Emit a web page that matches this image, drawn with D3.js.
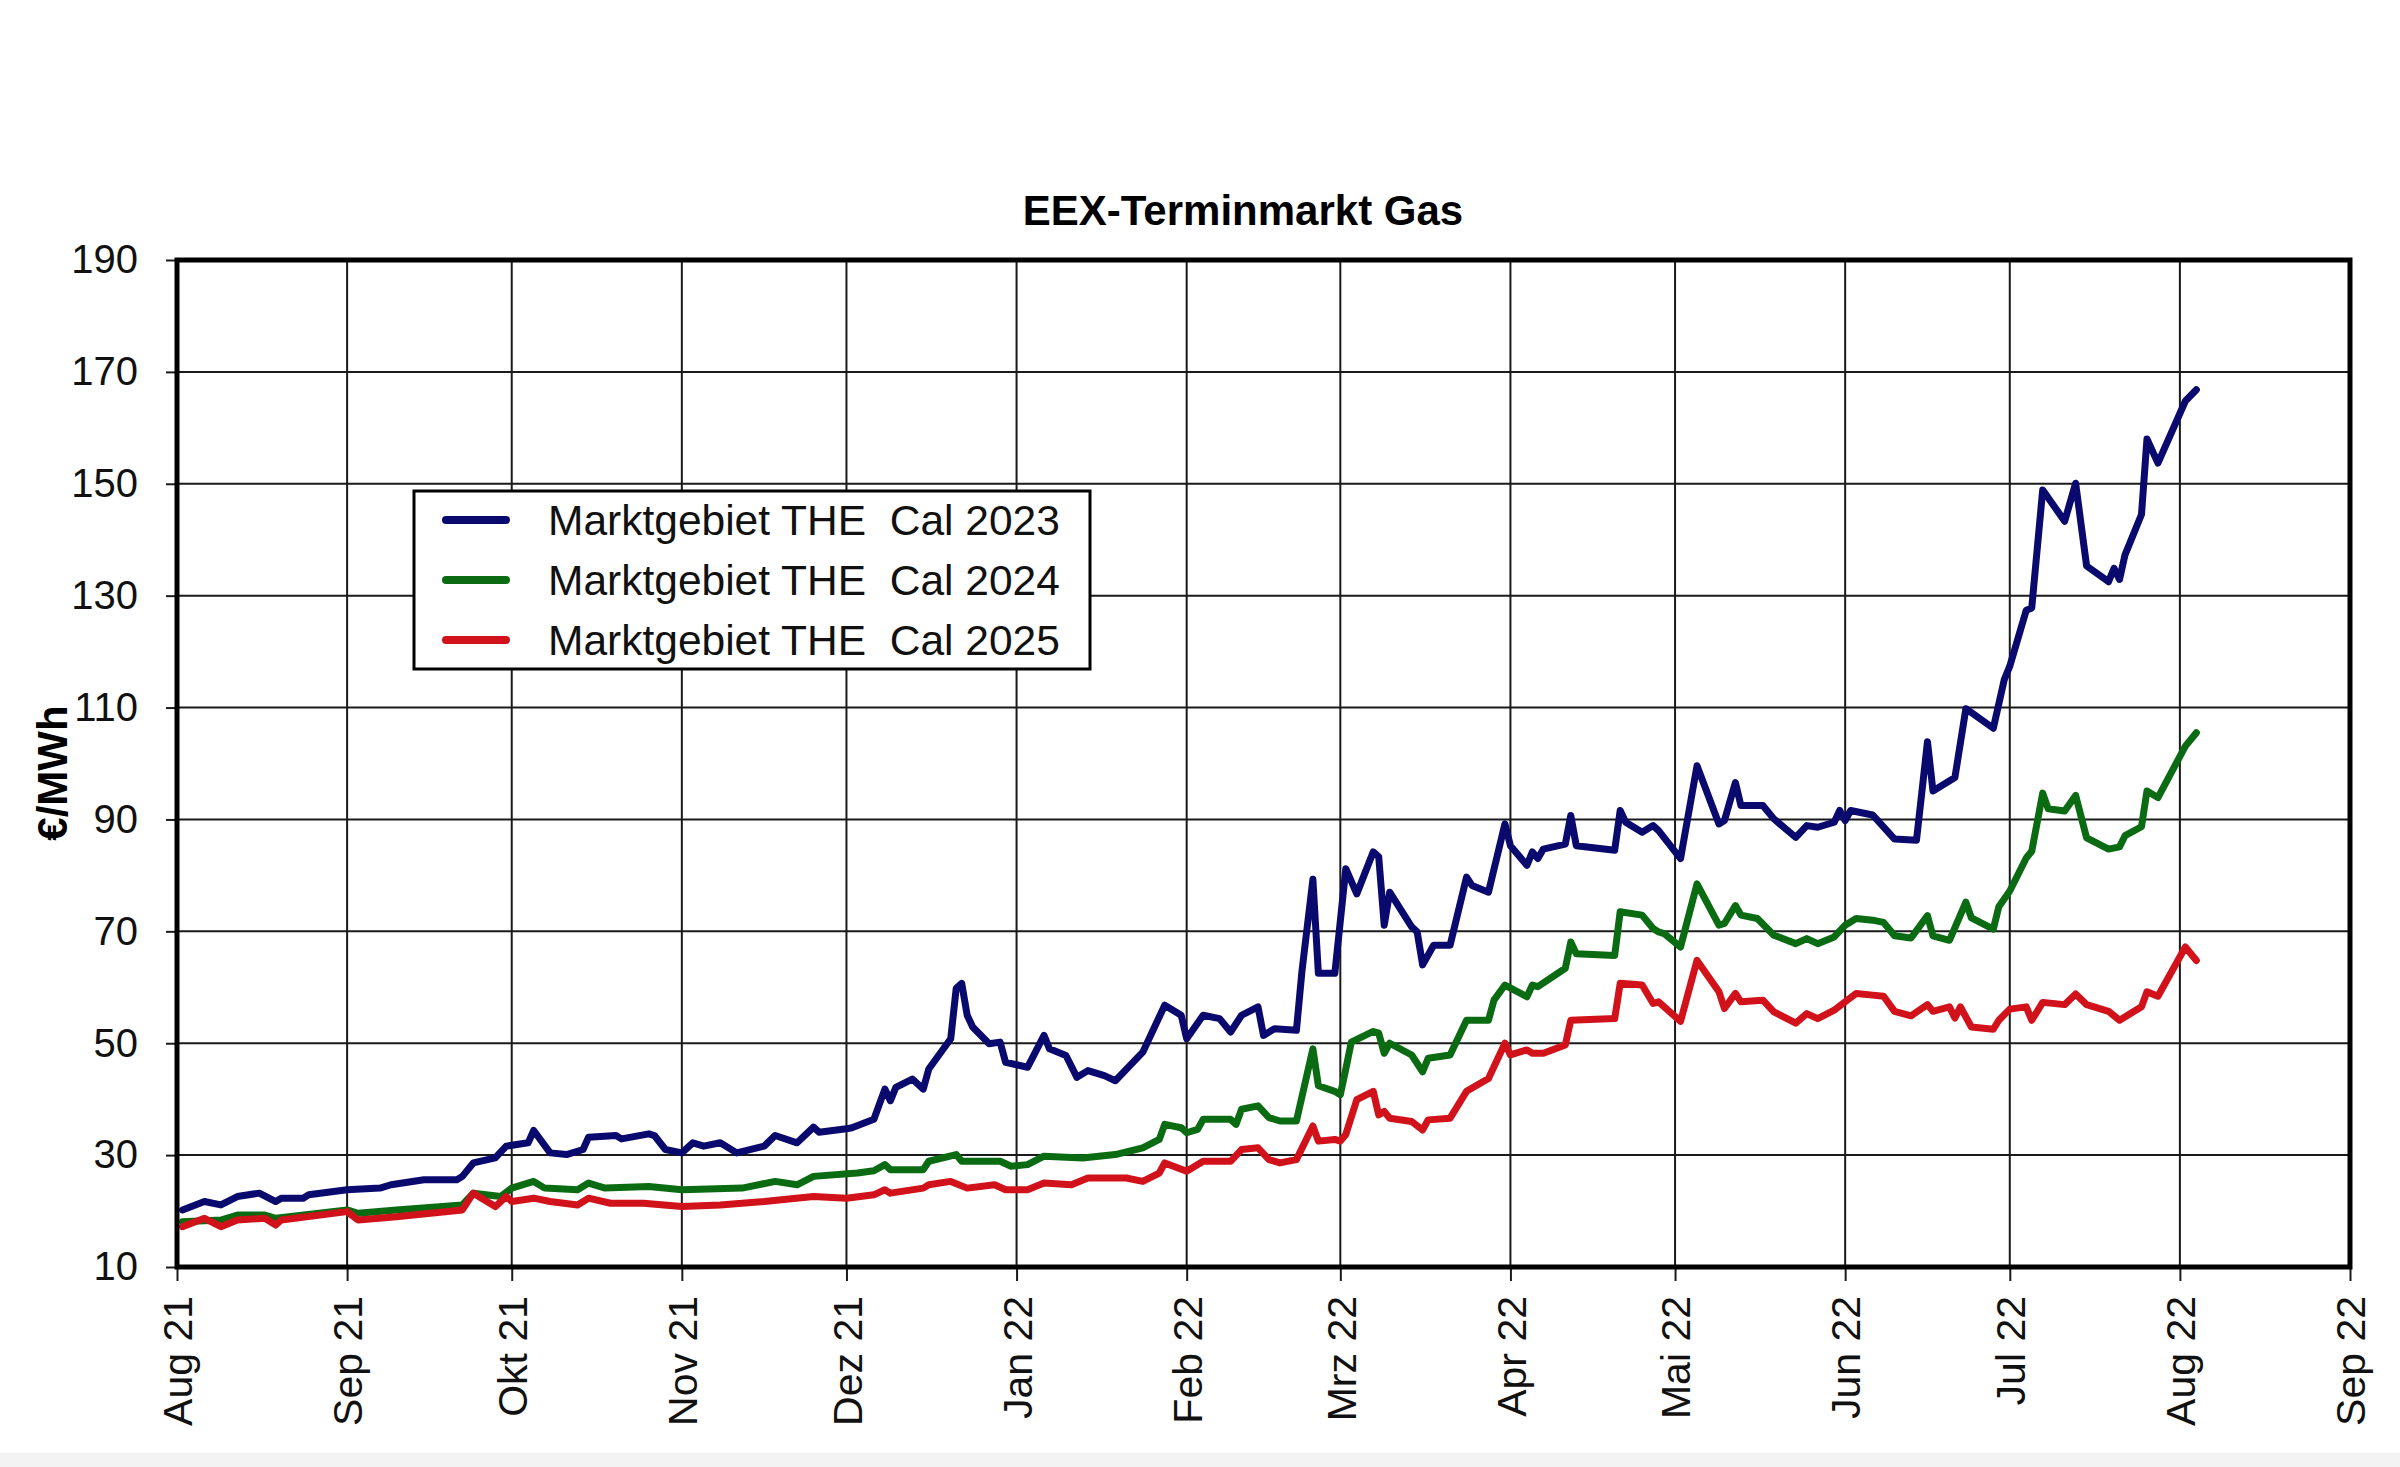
<!DOCTYPE html>
<html>
<head>
<meta charset="utf-8">
<script src="https://cdn.jsdelivr.net/npm/d3@7"></script>
<style>
  html, body { margin: 0; padding: 0; background: #fff; }
  svg { display: block; font-family: "Liberation Sans", Arial, sans-serif; }
</style>
</head>
<body>
<div id="chart"></div>
<script>
(function() {

// Chart data, one [date, €/MWh] pair per point.
var cal2023 = [
  ["2021-08-02",20.2],["2021-08-06",21.7],["2021-08-09",21.1],["2021-08-12",22.6],["2021-08-16",23.2],
  ["2021-08-19",21.7],["2021-08-20",22.3],["2021-08-24",22.3],["2021-08-25",22.9],["2021-09-01",23.8],
  ["2021-09-07",24.1],["2021-09-09",24.7],["2021-09-15",25.6],["2021-09-21",25.6],["2021-09-22",26.2],
  ["2021-09-24",28.6],["2021-09-28",29.5],["2021-09-30",31.6],["2021-10-04",32.2],["2021-10-05",34.4],
  ["2021-10-08",30.4],["2021-10-11",30.1],["2021-10-14",31.0],["2021-10-15",33.2],["2021-10-20",33.5],
  ["2021-10-21",32.9],["2021-10-26",33.8],["2021-10-27",33.5],["2021-10-29",31.0],["2021-11-01",30.4],
  ["2021-11-03",32.2],["2021-11-05",31.6],["2021-11-08",32.2],["2021-11-11",30.4],["2021-11-16",31.6],
  ["2021-11-18",33.5],["2021-11-22",32.2],["2021-11-25",35.0],["2021-11-26",34.1],["2021-12-01",34.7],
  ["2021-12-02",34.9],["2021-12-06",36.4],["2021-12-08",41.8],["2021-12-09",39.7],["2021-12-10",42.1],
  ["2021-12-13",43.6],["2021-12-15",41.8],["2021-12-16",45.4],["2021-12-20",50.8],["2021-12-21",59.8],
  ["2021-12-22",60.7],["2021-12-23",55.0],["2021-12-24",52.9],["2021-12-27",49.9],["2021-12-29",50.2],
  ["2021-12-30",46.6],["2022-01-03",45.7],["2022-01-06",51.4],["2022-01-07",49.0],["2022-01-10",47.8],
  ["2022-01-12",43.9],["2022-01-14",45.1],["2022-01-17",44.2],["2022-01-19",43.3],["2022-01-24",48.4],
  ["2022-01-28",56.8],["2022-01-31",55.0],["2022-02-01",50.8],["2022-02-04",55.0],["2022-02-07",54.4],
  ["2022-02-09",52.0],["2022-02-11",55.0],["2022-02-14",56.5],["2022-02-15",51.4],["2022-02-17",52.6],
  ["2022-02-21",52.3],["2022-02-22",62.8],["2022-02-24",79.3],["2022-02-25",62.5],["2022-02-28",62.5],
  ["2022-03-02",81.2],["2022-03-04",76.7],["2022-03-07",84.2],["2022-03-08",83.3],["2022-03-09",71.1],
  ["2022-03-10",77.0],["2022-03-14",70.8],["2022-03-15",69.9],["2022-03-16",64.0],["2022-03-18",67.5],
  ["2022-03-21",67.5],["2022-03-24",79.7],["2022-03-25",78.2],["2022-03-28",77.0],["2022-03-31",89.2],
  ["2022-04-01",85.3],["2022-04-04",81.8],["2022-04-05",84.2],["2022-04-06",83.0],["2022-04-07",84.7],
  ["2022-04-11",85.6],["2022-04-12",90.7],["2022-04-13",85.3],["2022-04-20",84.5],["2022-04-21",91.6],
  ["2022-04-22",89.5],["2022-04-25",87.7],["2022-04-27",88.9],["2022-04-28",88.0],["2022-05-02",83.0],
  ["2022-05-05",99.6],["2022-05-09",89.2],["2022-05-10",89.8],["2022-05-12",96.6],["2022-05-13",92.5],
  ["2022-05-17",92.5],["2022-05-19",90.1],["2022-05-23",86.8],["2022-05-25",88.9],["2022-05-27",88.6],
  ["2022-05-30",89.5],["2022-05-31",91.6],["2022-06-01",89.8],["2022-06-02",91.6],["2022-06-06",90.8],
  ["2022-06-10",86.5],["2022-06-14",86.3],["2022-06-16",103.9],["2022-06-17",95.1],["2022-06-21",97.5],
  ["2022-06-23",109.8],["2022-06-28",106.3],["2022-06-30",115.0],["2022-07-01",117.4],["2022-07-04",127.4],
  ["2022-07-05",127.8],["2022-07-07",148.9],["2022-07-11",143.3],["2022-07-13",150.1],["2022-07-15",135.3],
  ["2022-07-19",132.5],["2022-07-20",134.9],["2022-07-21",132.9],["2022-07-22",137.3],["2022-07-25",144.5],
  ["2022-07-26",158.0],["2022-07-28",153.7],["2022-08-02",164.8],["2022-08-04",166.8]
];

var cal2024 = [
  ["2021-08-02",18.1],["2021-08-09",18.4],["2021-08-12",19.3],["2021-08-17",19.3],["2021-08-19",18.7],
  ["2021-09-01",20.2],["2021-09-03",19.6],["2021-09-10",20.2],["2021-09-22",21.1],["2021-09-24",23.2],
  ["2021-09-29",22.6],["2021-10-01",24.1],["2021-10-05",25.3],["2021-10-07",24.1],["2021-10-13",23.8],
  ["2021-10-15",25.0],["2021-10-18",24.1],["2021-10-26",24.4],["2021-11-01",23.8],["2021-11-12",24.1],
  ["2021-11-18",25.3],["2021-11-22",24.7],["2021-11-25",26.2],["2021-12-03",26.8],["2021-12-06",27.2],
  ["2021-12-08",28.3],["2021-12-09",27.4],["2021-12-15",27.4],["2021-12-16",28.9],["2021-12-21",30.1],
  ["2021-12-22",28.9],["2021-12-29",28.9],["2021-12-31",28.0],["2022-01-03",28.3],["2022-01-06",29.8],
  ["2022-01-13",29.5],["2022-01-19",30.1],["2022-01-24",31.3],["2022-01-27",32.8],["2022-01-28",35.5],
  ["2022-01-31",34.9],["2022-02-01",34.0],["2022-02-03",34.6],["2022-02-04",36.4],["2022-02-09",36.4],
  ["2022-02-10",35.5],["2022-02-11",38.2],["2022-02-14",38.8],["2022-02-16",36.7],["2022-02-18",36.1],
  ["2022-02-21",36.1],["2022-02-24",49.0],["2022-02-25",42.4],["2022-02-28",41.4],["2022-03-01",40.8],
  ["2022-03-02",45.4],["2022-03-03",50.2],["2022-03-07",52.1],["2022-03-08",51.8],["2022-03-09",48.2],
  ["2022-03-10",50.0],["2022-03-14",47.9],["2022-03-16",44.9],["2022-03-17",47.3],["2022-03-21",47.9],
  ["2022-03-24",54.1],["2022-03-28",54.1],["2022-03-29",57.7],["2022-03-31",60.4],["2022-04-04",58.3],
  ["2022-04-05",60.4],["2022-04-06",60.1],["2022-04-11",63.4],["2022-04-12",68.1],["2022-04-13",66.0],
  ["2022-04-20",65.7],["2022-04-21",73.5],["2022-04-25",72.9],["2022-04-27",70.5],["2022-04-28",69.9],
  ["2022-04-29",69.6],["2022-05-02",67.2],["2022-05-05",78.5],["2022-05-09",71.1],["2022-05-10",71.4],
  ["2022-05-12",74.6],["2022-05-13",72.9],["2022-05-16",72.3],["2022-05-19",69.3],["2022-05-23",67.8],
  ["2022-05-25",68.7],["2022-05-27",67.8],["2022-05-30",69.0],["2022-06-01",71.1],["2022-06-03",72.3],
  ["2022-06-06",72.0],["2022-06-08",71.6],["2022-06-10",69.2],["2022-06-13",68.8],["2022-06-16",72.8],
  ["2022-06-17",69.2],["2022-06-20",68.4],["2022-06-23",75.2],["2022-06-24",72.4],["2022-06-28",70.4],
  ["2022-06-29",74.4],["2022-07-01",77.2],["2022-07-04",83.1],["2022-07-05",84.3],["2022-07-07",94.7],
  ["2022-07-08",91.9],["2022-07-11",91.5],["2022-07-13",94.3],["2022-07-15",86.7],["2022-07-19",84.7],
  ["2022-07-21",85.1],["2022-07-22",87.1],["2022-07-25",88.7],["2022-07-26",95.1],["2022-07-28",93.9],
  ["2022-08-02",103.1],["2022-08-04",105.5]
];

var cal2025 = [
  ["2021-08-02",17.2],["2021-08-06",18.7],["2021-08-09",17.2],["2021-08-12",18.4],["2021-08-17",18.7],
  ["2021-08-19",17.5],["2021-08-20",18.4],["2021-09-01",19.9],["2021-09-03",18.4],["2021-09-10",19.0],
  ["2021-09-22",20.2],["2021-09-24",23.2],["2021-09-28",20.8],["2021-09-30",22.6],["2021-10-01",21.7],
  ["2021-10-05",22.3],["2021-10-08",21.7],["2021-10-13",21.1],["2021-10-15",22.3],["2021-10-19",21.4],
  ["2021-10-25",21.4],["2021-11-01",20.8],["2021-11-08",21.1],["2021-11-16",21.7],["2021-11-25",22.6],
  ["2021-12-01",22.3],["2021-12-06",22.9],["2021-12-08",23.8],["2021-12-09",23.2],["2021-12-15",24.1],
  ["2021-12-16",24.7],["2021-12-20",25.3],["2021-12-23",24.1],["2021-12-28",24.7],["2021-12-30",23.8],
  ["2022-01-03",23.8],["2022-01-06",25.0],["2022-01-11",24.7],["2022-01-14",25.9],["2022-01-21",25.9],
  ["2022-01-24",25.3],["2022-01-27",26.8],["2022-01-28",28.6],["2022-02-01",27.1],["2022-02-04",28.9],
  ["2022-02-09",28.9],["2022-02-11",31.0],["2022-02-14",31.3],["2022-02-16",29.2],["2022-02-18",28.6],
  ["2022-02-21",29.2],["2022-02-24",35.2],["2022-02-25",32.5],["2022-02-28",32.8],["2022-03-01",32.5],
  ["2022-03-02",33.7],["2022-03-04",39.9],["2022-03-07",41.4],["2022-03-08",37.2],["2022-03-09",37.8],
  ["2022-03-10",36.6],["2022-03-14",36.0],["2022-03-16",34.5],["2022-03-17",36.3],["2022-03-21",36.6],
  ["2022-03-24",41.4],["2022-03-28",43.7],["2022-03-31",50.0],["2022-04-01",47.9],["2022-04-04",48.8],
  ["2022-04-05",48.2],["2022-04-07",48.2],["2022-04-11",49.7],["2022-04-12",54.1],["2022-04-20",54.4],
  ["2022-04-21",60.7],["2022-04-25",60.4],["2022-04-27",57.1],["2022-04-28",57.4],["2022-05-02",53.9],
  ["2022-05-05",64.8],["2022-05-09",59.2],["2022-05-10",56.2],["2022-05-12",58.9],["2022-05-13",57.4],
  ["2022-05-17",57.7],["2022-05-19",55.6],["2022-05-23",53.6],["2022-05-25",55.3],["2022-05-27",54.4],
  ["2022-05-30",55.9],["2022-06-01",57.4],["2022-06-03",58.9],["2022-06-06",58.6],["2022-06-08",58.4],
  ["2022-06-10",55.7],["2022-06-13",54.9],["2022-06-16",56.9],["2022-06-17",55.7],["2022-06-20",56.5],
  ["2022-06-21",54.5],["2022-06-22",56.5],["2022-06-24",52.9],["2022-06-28",52.5],["2022-06-29",54.1],
  ["2022-07-01",56.1],["2022-07-04",56.5],["2022-07-05",54.1],["2022-07-07",57.3],["2022-07-11",56.9],
  ["2022-07-13",58.8],["2022-07-15",56.9],["2022-07-19",55.7],["2022-07-21",54.1],["2022-07-25",56.5],
  ["2022-07-26",59.2],["2022-07-28",58.4],["2022-08-02",67.2],["2022-08-04",64.8]
];

var seriesNames = ["Marktgebiet THE  Cal 2023", "Marktgebiet THE  Cal 2024", "Marktgebiet THE  Cal 2025"];
var seriesColors = ["#0a0a6e", "#0b6b12", "#d2121a"];

var monthTicks = ["2021-08-01","2021-09-01","2021-10-01","2021-11-01","2021-12-01","2022-01-01","2022-02-01",
                  "2022-03-01","2022-04-01","2022-05-01","2022-06-01","2022-07-01","2022-08-01","2022-09-01"];
var monthLabels = ["Aug 21","Sep 21","Okt 21","Nov 21","Dez 21","Jan 22","Feb 22",
                   "Mrz 22","Apr 22","Mai 22","Jun 22","Jul 22","Aug 22","Sep 22"];
var yTicks = [10, 30, 50, 70, 90, 110, 130, 150, 170, 190];

var title = "EEX-Terminmarkt Gas";
var yLabel = "€/MWh";

// Layout
var W = 2400, H = 1467;
var plot = {left: 177, right: 2350, top: 260, bottom: 1267};

var parse = d3.utcParse("%Y-%m-%d");
var tickDates = monthTicks.map(parse);

var x = d3.scaleUtc()
    .domain([tickDates[0], tickDates[tickDates.length - 1]])
    .range([plot.left, plot.right]);
var y = d3.scaleLinear()
    .domain([10, 190])
    .range([plot.bottom, plot.top]);

var svg = d3.select("#chart").append("svg")
    .attr("width", W)
    .attr("height", H);

svg.append("rect").attr("width", W).attr("height", H).attr("fill", "#fff");
// light strip at the very bottom of the picture
svg.append("rect").attr("x", 0).attr("y", 1453).attr("width", W).attr("height", H - 1453)
    .attr("fill", "#f3f3f3");

// grid
var grid = svg.append("g").attr("stroke", "#1a1a1a").attr("stroke-width", 2);
grid.selectAll("line.h").data(yTicks.slice(1, -1))
  .enter().append("line")
    .attr("x1", plot.left).attr("x2", plot.right)
    .attr("y1", function(d) { return y(d); })
    .attr("y2", function(d) { return y(d); });
grid.selectAll("line.v").data(tickDates.slice(1, -1))
  .enter().append("line")
    .attr("y1", plot.top).attr("y2", plot.bottom)
    .attr("x1", function(d) { return x(d); })
    .attr("x2", function(d) { return x(d); });

// axes
var yAxis = svg.append("g")
    .attr("transform", "translate(" + plot.left + ",0)")
    .call(d3.axisLeft(y).tickValues(yTicks).tickSizeInner(11).tickSizeOuter(0).tickPadding(28));
yAxis.select(".domain").remove();
yAxis.selectAll(".tick line").attr("stroke", "#1a1a1a").attr("stroke-width", 2);
yAxis.selectAll(".tick text")
    .attr("font-size", 40)
    .attr("font-family", "'Liberation Sans', Arial, sans-serif")
    .attr("fill", "#111");

var xAxis = svg.append("g")
    .attr("transform", "translate(0," + plot.bottom + ")")
    .call(d3.axisBottom(x).tickValues(tickDates).tickSizeInner(14).tickSizeOuter(0)
        .tickFormat(function(d, i) { return monthLabels[i]; }));
xAxis.select(".domain").remove();
xAxis.selectAll(".tick line").attr("stroke", "#1a1a1a").attr("stroke-width", 2);
xAxis.selectAll(".tick text")
    .attr("font-size", 41)
    .attr("font-family", "'Liberation Sans', Arial, sans-serif")
    .attr("fill", "#111")
    .attr("text-anchor", "end")
    .attr("transform", "rotate(-90)")
    .attr("x", -29)
    .attr("y", 0)
    .attr("dy", "0.36em");

// series
var line = d3.line()
    .x(function(d) { return x(parse(d[0])); })
    .y(function(d) { return y(d[1]); });

[cal2023, cal2024, cal2025].forEach(function(s, i) {
  svg.append("path")
      .datum(s)
      .attr("fill", "none")
      .attr("stroke", seriesColors[i])
      .attr("stroke-width", 7)
      .attr("stroke-linejoin", "round")
      .attr("stroke-linecap", "round")
      .attr("d", line);
});

// plot frame
svg.append("rect")
    .attr("x", plot.left).attr("y", plot.top)
    .attr("width", plot.right - plot.left).attr("height", plot.bottom - plot.top)
    .attr("fill", "none").attr("stroke", "#000").attr("stroke-width", 5);

// legend
var legend = svg.append("g").attr("transform", "translate(414,491)");
legend.append("rect")
    .attr("width", 676).attr("height", 178)
    .attr("fill", "#fff").attr("stroke", "#000").attr("stroke-width", 3);
var rows = legend.selectAll("g.row").data(seriesNames)
  .enter().append("g")
    .attr("transform", function(d, i) { return "translate(0," + (29 + i * 60) + ")"; });
rows.append("line")
    .attr("x1", 32).attr("x2", 92)
    .attr("stroke", function(d, i) { return seriesColors[i]; })
    .attr("stroke-width", 8)
    .attr("stroke-linecap", "round");
rows.append("text")
    .attr("x", 134).attr("dy", "0.36em")
    .attr("font-size", 42.5)
    .attr("fill", "#111")
    .attr("xml:space", "preserve")
    .style("white-space", "pre")
    .text(function(d) { return d; });

// title and y label
svg.append("text")
    .attr("x", 1243).attr("y", 225)
    .attr("text-anchor", "middle")
    .attr("font-size", 42).attr("font-weight", "bold")
    .attr("fill", "#000")
    .text(title);

svg.append("text")
    .attr("transform", "translate(67,773) rotate(-90)")
    .attr("text-anchor", "middle")
    .attr("font-size", 42).attr("font-weight", "bold")
    .attr("fill", "#000")
    .text(yLabel);

})();
</script>
</body>
</html>
